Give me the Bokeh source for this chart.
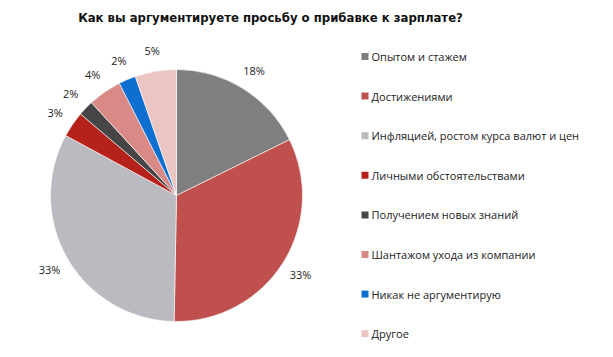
import math
from bokeh.plotting import figure
from bokeh.models import Range1d, ColumnDataSource
from bokeh.core.properties import value
from bokeh.embed import file_html
from bokeh.resources import INLINE

title = "Как вы аргументируете просьбу о прибавке к зарплате?"
categories = ["Опытом и стажем", "Достижениями", "Инфляцией, ростом курса валют и цен",
              "Личными обстоятельствами", "Получением новых знаний",
              "Шантажом ухода из компании", "Никак не аргументирую", "Другое"]
values = [17.7, 32.6, 32.6, 3.3, 2.0, 4.3, 2.2, 5.3]
labels = ["18%", "33%", "33%", "3%", "2%", "4%", "2%", "5%"]
colors = ["#7f7f7f", "#c0504d", "#bbbac0", "#b5211b", "#464646", "#da8a86", "#0f6fd1", "#ebc4c4"]

W, H = 613, 357
p = figure(width=W, height=H, output_backend="svg", toolbar_location=None,
           x_range=Range1d(0, W), y_range=Range1d(0, H), min_border=0)
p.axis.visible = False
p.grid.visible = False
p.outline_line_color = None
p.background_fill_color = "white"
p.border_fill_color = "white"

cx, cy, r = 176, H - 195, 126
total = sum(values)
starts, ends, lx, ly = [], [], [], []
cum = 0.0
for v in values:
    a0 = math.pi / 2 - 2 * math.pi * cum / total
    cum += v
    a1 = math.pi / 2 - 2 * math.pi * cum / total
    starts.append(a0)
    ends.append(a1)
    mid = (a0 + a1) / 2
    lx.append(cx + 147 * math.cos(mid))
    ly.append(cy + 147 * math.sin(mid))

src = ColumnDataSource(dict(start=starts, end=ends, color=colors, lx=lx, ly=ly, label=labels))
p.wedge(x=cx, y=cy, radius=r, start_angle="start", end_angle="end", direction="clock",
        fill_color="color", line_color="white", line_width=0.6, source=src)
p.text(x="lx", y="ly", text="label", source=src, text_align="center", text_baseline="middle",
       text_font=value("Open Sans"), text_font_size="11px", text_color="#222222")

# legend
ys = [H - (56 + 39.6 * i) for i in range(len(categories))]
lsrc = ColumnDataSource(dict(y=ys, color=colors, cat=categories))
p.rect(x=364.5, y="y", width=7, height=7, fill_color="color", line_color=None, source=lsrc)
p.text(x=371, y="y", text="cat", source=lsrc, text_align="left", text_baseline="middle",
       text_font=value("Open Sans"), text_font_size="11px", text_color="#222222")

# title
p.text(x=[270], y=[H - 17], text=[title], text_align="center", text_baseline="middle",
       text_font=value("DejaVu Sans Condensed"), text_font_style="bold",
       text_font_size="13px", text_color="#111111")

open("out.html", "w").write(file_html(p, INLINE))
